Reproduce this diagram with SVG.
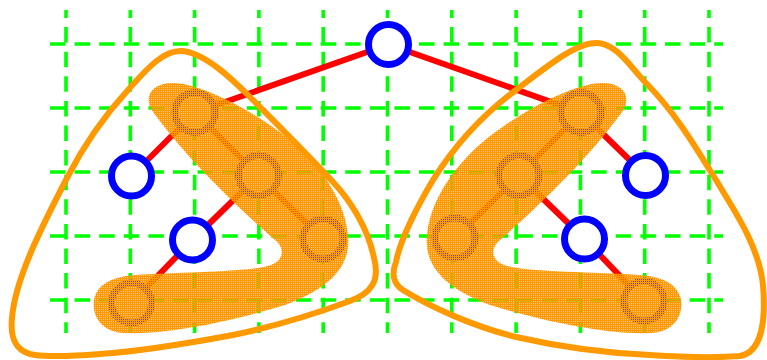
<svg xmlns="http://www.w3.org/2000/svg" width="767" height="360" viewBox="0 0 767 360">
<style>
.grid line{stroke:#00ff00;stroke-width:3.6;stroke-dasharray:15.5 9.1}
.gv line{stroke-dashoffset:7.5}
.edge{stroke:#ff0000;stroke-width:6}
.node circle{fill:#ffffff;stroke:#0000ff;stroke-width:7}
.blob{fill:url(#dots)}
.hull{fill:none;stroke:#ff9900;stroke-width:6;stroke-linejoin:round}
</style>
<defs>
<pattern id="dots" width="2" height="2" patternUnits="userSpaceOnUse"><path d="M0 0H2V1H1V2H0Z" fill="#ff9900" shape-rendering="crispEdges"/><rect x="1" y="1" width="1" height="1" fill="#ff9900" fill-opacity="0.5" shape-rendering="crispEdges"/></pattern>
</defs>
<rect width="767" height="360" fill="#ffffff"/>
<g id="grid" class="grid">
<g class="gh">
<line x1="50" y1="44" x2="723" y2="44"/>
<line x1="50" y1="108" x2="723" y2="108"/>
<line x1="50" y1="172" x2="723" y2="172"/>
<line x1="50" y1="236" x2="723" y2="236"/>
<line x1="50" y1="300" x2="723" y2="300"/>
</g>
<g class="gv">
<line x1="66" y1="10" x2="66" y2="333"/>
<line x1="130.3" y1="10" x2="130.3" y2="333"/>
<line x1="194.6" y1="10" x2="194.6" y2="333"/>
<line x1="258.9" y1="10" x2="258.9" y2="333"/>
<line x1="323.2" y1="10" x2="323.2" y2="333"/>
<line x1="387.5" y1="10" x2="387.5" y2="333"/>
<line x1="451.8" y1="10" x2="451.8" y2="333"/>
<line x1="516.1" y1="10" x2="516.1" y2="333"/>
<line x1="580.4" y1="10" x2="580.4" y2="333"/>
<line x1="644.7" y1="10" x2="644.7" y2="333"/>
<line x1="709" y1="10" x2="709" y2="333"/>
</g>
</g>
<g id="connectors">
<line class="edge" x1="388.5" y1="44.5" x2="195" y2="112.5"/>
<line class="edge" x1="195" y1="112.5" x2="131.5" y2="176"/>
<line class="edge" x1="195" y1="112.5" x2="258.5" y2="175.5"/>
<line class="edge" x1="258.5" y1="175.5" x2="192.5" y2="240"/>
<line class="edge" x1="258.5" y1="175.5" x2="323" y2="239"/>
<line class="edge" x1="192.5" y1="240" x2="131.5" y2="303"/>
<line class="edge" x1="388.5" y1="44.5" x2="581" y2="112.5"/>
<line class="edge" x1="581" y1="112.5" x2="645.5" y2="175.5"/>
<line class="edge" x1="581" y1="112.5" x2="519" y2="175.5"/>
<line class="edge" x1="519" y1="175.5" x2="455" y2="238"/>
<line class="edge" x1="519" y1="175.5" x2="584.5" y2="239"/>
<line class="edge" x1="584.5" y1="239" x2="644" y2="301"/>
</g>
<g id="n-root" class="node"><circle cx="388.5" cy="44.5" r="20"/></g>
<g id="n-l-a" class="node"><circle cx="195" cy="112.5" r="20"/></g>
<g id="n-l-1" class="node"><circle cx="131.5" cy="176" r="20"/></g>
<g id="n-l-b" class="node"><circle cx="258.5" cy="175.5" r="20"/></g>
<g id="n-l-2" class="node"><circle cx="192.5" cy="240" r="20"/></g>
<g id="n-l-c" class="node"><circle cx="323" cy="239" r="20"/></g>
<g id="n-l-d" class="node"><circle cx="131.5" cy="303" r="20"/></g>
<g id="n-r-a" class="node"><circle cx="581" cy="112.5" r="20"/></g>
<g id="n-r-1" class="node"><circle cx="645.5" cy="175.5" r="20"/></g>
<g id="n-r-b" class="node"><circle cx="519" cy="175.5" r="20"/></g>
<g id="n-r-c" class="node"><circle cx="455" cy="238" r="20"/></g>
<g id="n-r-2" class="node"><circle cx="584.5" cy="239" r="20"/></g>
<g id="n-r-d" class="node"><circle cx="644" cy="301" r="20"/></g>
<g id="blob-left">
<path class="blob" d="M153,112 C143,98 150,82 175,83 C205,85 255,112 290,140 C320,165 345,200 348,235 C352,272 320,292 285,305 C230,322 165,335 125,333 C100,332 92,315 94,300 C97,285 110,277 135,275 C180,272 245,272 268,266 C285,261 285,248 275,240 C243,212 190,163 153,112 Z"/>
</g>
<g id="blob-right">
<path class="blob" transform="translate(775,0) scale(-1,1)" d="M153,112 C143,98 150,82 175,83 C205,85 255,112 290,140 C320,165 345,200 348,235 C352,272 320,292 285,305 C230,322 165,335 125,333 C100,332 92,315 94,300 C97,285 110,277 135,275 C180,272 245,272 268,266 C285,261 285,248 275,240 C243,212 190,163 153,112 Z"/>
</g>
<g id="hull-left">
<path class="hull" d="M182,51 C205,53 232,79 250,97 C278,125 306,153 333,182 C350,200 368,228 374,258 C380,280 372,293 350,301 C312,315 272,327 233,335 C190,343 145,351 100,354 C75,356 50,357 35,355 C15,352 10,338 12,318 C15,280 40,230 67,178 C85,143 105,115 128,90 C150,65 165,50 182,51 Z"/>
</g>
<g id="hull-right">
<path class="hull" d="M596,43 C617,43 631,68 646,83 C674,111 695,146 716,180 C736,213 759,247 763,285 C766,320 762,352 740,356 C715,358 680,357 650,355 C605,353 560,347 516,337 C475,327 430,307 403,290 C392,283 392,272 396,262 C400,240 418,205 433,180 C455,145 485,113 516,90 C545,68 575,43 596,43 Z"/>
</g>
</svg>
